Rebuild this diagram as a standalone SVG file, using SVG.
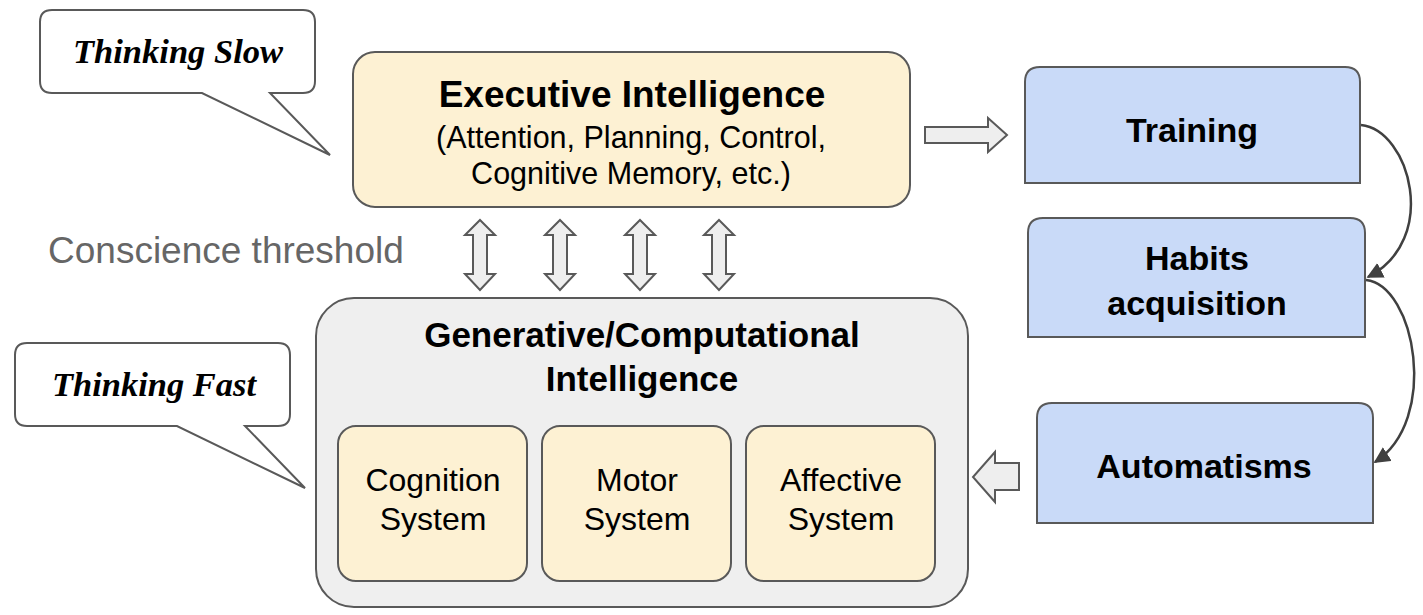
<svg xmlns="http://www.w3.org/2000/svg" xmlns:xlink="http://www.w3.org/1999/xlink" width="1423" height="615" viewBox="0 0 1423 615">
  <style>
    .yellow { fill: #fdf1d3; stroke: #595959; stroke-width: 2; }
    .gray { fill: #efefef; stroke: #595959; stroke-width: 2; }
    .blue { fill: #c9daf8; stroke: #595959; stroke-width: 2; }
    .bubble { fill: #ffffff; stroke: #595959; stroke-width: 2; stroke-linejoin: miter; }
    .block { fill: #eeeeee; stroke: #595959; stroke-width: 2; stroke-linejoin: miter; }
    .curve { fill: none; stroke: #404040; stroke-width: 2.5; }
    .sans { font-family: "Liberation Sans", Arial, sans-serif; fill: #000; text-anchor: middle; }
    .bold { font-weight: bold; }
    .serif { font-family: "Liberation Serif", "Times New Roman", serif; font-weight: bold; font-style: italic; fill: #000; text-anchor: middle; }
  </style>
  <defs>
    <marker id="head" viewBox="0 0 10 10" refX="9" refY="5" markerWidth="6.5" markerHeight="6.5" markerUnits="strokeWidth" orient="auto">
      <path d="M0,0 L10,5 L0,10 Z" fill="#404040"/>
    </marker>
    <path id="dbl" d="M0,220 L15,235 L7,235 L7,274 L15,274 L0,290 L-15,274 L-7,274 L-7,235 L-15,235 Z" class="block"/>
  </defs>
  <rect width="1423" height="615" fill="#ffffff"/>

  <g id="bubble-slow">
    <path class="bubble" d="M52,10 H303 Q315,10 315,22 V81 Q315,93 303,93 H270 L330,155 L202,93 H52 Q40,93 40,81 V22 Q40,10 52,10 Z"/>
    <text class="serif" x="178" y="63" font-size="34.5">Thinking Slow</text>
  </g>

  <g id="bubble-fast">
    <path class="bubble" d="M27,343 H278 Q290,343 290,355 V414 Q290,426 278,426 H245 L305,488 L177,426 H27 Q15,426 15,414 V355 Q15,343 27,343 Z"/>
    <text class="serif" x="154" y="396" font-size="34.5">Thinking Fast</text>
  </g>

  <g id="executive">
    <rect class="yellow" x="353" y="52" width="557" height="155" rx="22" ry="22"/>
    <text class="sans bold" x="632" y="107" font-size="37">Executive Intelligence</text>
    <text class="sans" x="631" y="148" font-size="30.5">(Attention, Planning, Control,</text>
    <text class="sans" x="631" y="184" font-size="30.5">Cognitive Memory, etc.)</text>
  </g>

  <g id="threshold">
    <text x="48" y="263" font-family="Liberation Sans, Arial, sans-serif" font-size="37" fill="#666666">Conscience threshold</text>
  </g>

  <g id="generative">
    <rect class="gray" x="316" y="298" width="652" height="309" rx="38" ry="38"/>
    <text class="sans bold" x="642" y="347" font-size="35">Generative/Computational</text>
    <text class="sans bold" x="642" y="391" font-size="35">Intelligence</text>
  </g>

  <g id="cognition">
    <rect class="yellow" x="338" y="426" width="189" height="155" rx="18" ry="18"/>
    <text class="sans" x="433" y="491" font-size="32">Cognition</text>
    <text class="sans" x="433" y="530" font-size="32">System</text>
  </g>

  <g id="motor">
    <rect class="yellow" x="542" y="426" width="189" height="155" rx="18" ry="18"/>
    <text class="sans" x="637" y="491" font-size="32">Motor</text>
    <text class="sans" x="637" y="530" font-size="32">System</text>
  </g>

  <g id="affective">
    <rect class="yellow" x="746" y="426" width="189" height="155" rx="18" ry="18"/>
    <text class="sans" x="841" y="491" font-size="32">Affective</text>
    <text class="sans" x="841" y="530" font-size="32">System</text>
  </g>

  <g id="training">
    <path class="blue" d="M1025,183 V82 Q1025,67 1040,67 H1345 Q1360,67 1360,82 V183 Z"/>
    <text class="sans bold" x="1192" y="142" font-size="34">Training</text>
  </g>

  <g id="habits">
    <path class="blue" d="M1028,337 V233 Q1028,218 1043,218 H1350 Q1365,218 1365,233 V337 Z"/>
    <text class="sans bold" x="1197" y="270" font-size="34">Habits</text>
    <text class="sans bold" x="1197" y="315" font-size="34">acquisition</text>
  </g>

  <g id="automatisms">
    <path class="blue" d="M1037,523 V418 Q1037,403 1052,403 H1358 Q1373,403 1373,418 V523 Z"/>
    <text class="sans bold" x="1204" y="478" font-size="34">Automatisms</text>
  </g>

  <g id="connectors">
    <use xlink:href="#dbl" x="480"/>
    <use xlink:href="#dbl" x="560"/>
    <use xlink:href="#dbl" x="640"/>
    <use xlink:href="#dbl" x="719"/>
    <path class="block" d="M925,127 H988 V118 L1007,135 L988,152 V143 H925 Z"/>
    <path class="block" d="M1019,463 H995 V452 L973,477 L995,502 V490 H1019 Z"/>
    <path class="curve" d="M1361,125 C1410,130 1440,240 1368,277" marker-end="url(#head)"/>
    <path class="curve" d="M1366,280 C1415,285 1440,420 1375,462" marker-end="url(#head)"/>
  </g>
</svg>
